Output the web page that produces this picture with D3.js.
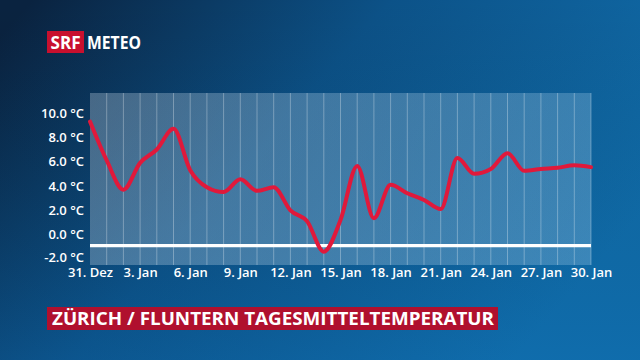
<!DOCTYPE html>
<html>
<head>
<meta charset="utf-8">
<script src="https://cdn.jsdelivr.net/npm/d3@7"></script>
<style>
html,body{margin:0;padding:0;background:#0c3a63;}
svg{display:block;}
</style>
</head>
<body>
<svg id="chart" width="640" height="360"></svg>
<script>
// Data
const days = d3.range(0, 31); // 31. Dez .. 30. Jan
const temps = [9.3, 6.1, 3.7, 5.9, 7.0, 8.7, 5.3, 3.9, 3.5, 4.55, 3.6, 3.9, 2.0, 1.1, -1.4, 1.2, 5.65, 1.35, 4.1, 3.4, 2.85, 2.1, 6.3, 5.0, 5.4, 6.7, 5.25, 5.4, 5.5, 5.7, 5.55];
const xTickDays = [0, 3, 6, 9, 12, 15, 18, 21, 24, 27, 30];
const xTickLabels = ["31. Dez", "3. Jan", "6. Jan", "9. Jan", "12. Jan", "15. Jan", "18. Jan", "21. Jan", "24. Jan", "27. Jan", "30. Jan"];
const yTicks = [-2, 0, 2, 4, 6, 8, 10];
const refLineValue = -0.9;
const title = "ZÜRICH / FLUNTERN TAGESMITTELTEMPERATUR";

const svg = d3.select("#chart");
const W = 640, H = 360;
const defs = svg.append("defs");

const bg = defs.append("linearGradient").attr("id", "bg")
  .attr("x1", "0%").attr("y1", "10%").attr("x2", "100%").attr("y2", "60%");
bg.append("stop").attr("offset", "0%").attr("stop-color", "#0a2340");
bg.append("stop").attr("offset", "45%").attr("stop-color", "#0c5288");
bg.append("stop").attr("offset", "100%").attr("stop-color", "#1171b0");
svg.append("rect").attr("width", W).attr("height", H).attr("fill", "url(#bg)");

const bg2 = defs.append("linearGradient").attr("id", "bg2")
  .attr("x1", "0").attr("y1", "0").attr("x2", "0").attr("y2", "1");
bg2.append("stop").attr("offset", "0%").attr("stop-color", "#000000").attr("stop-opacity", 0.0);
bg2.append("stop").attr("offset", "100%").attr("stop-color", "#0b5fa0").attr("stop-opacity", 0.25);
svg.append("rect").attr("width", W).attr("height", H).attr("fill", "url(#bg2)");

// Scales
const x = d3.scaleLinear().domain([0, 30]).range([90, 591]);
const y = d3.scaleLinear().domain([-2.5, 11.65]).range([265, 93]);

// Plot panel
const panelGrad = defs.append("linearGradient").attr("id", "panel")
  .attr("x1", "0").attr("y1", "0").attr("x2", "1").attr("y2", "0");
panelGrad.append("stop").attr("offset", "0%").attr("stop-color", "#c8d8e6").attr("stop-opacity", 0.32);
panelGrad.append("stop").attr("offset", "100%").attr("stop-color", "#b8dcf4").attr("stop-opacity", 0.26);
svg.append("rect")
  .attr("x", x(0)).attr("y", y(11.65))
  .attr("width", x(30) - x(0)).attr("height", y(-2.5) - y(11.65))
  .attr("fill", "url(#panel)");

// Vertical day grid
svg.append("g").selectAll("line").data(days.slice(1)).join("line")
  .attr("x1", d => x(d)).attr("x2", d => x(d))
  .attr("y1", y(11.65)).attr("y2", y(-2.5))
  .attr("stroke", "#ffffff").attr("stroke-opacity", 0.3).attr("stroke-width", 1);

// Reference line
svg.append("line")
  .attr("x1", x(0)).attr("x2", x(30))
  .attr("y1", y(refLineValue)).attr("y2", y(refLineValue))
  .attr("stroke", "#ffffff").attr("stroke-width", 3.2);

// Temperature line
const line = d3.line().x((d, i) => x(days[i])).y(d => y(d)).curve(d3.curveMonotoneX);
svg.append("path").datum(temps)
  .attr("d", line)
  .attr("fill", "none")
  .attr("stroke", "#e0193b")
  .attr("stroke-width", 4)
  .attr("stroke-linejoin", "round")
  .attr("stroke-linecap", "round");

// Axes
const fontFam = "'Open Sans', 'Noto Sans', sans-serif";
const yAxis = svg.append("g").attr("transform", `translate(${x(0)},0)`)
  .call(d3.axisLeft(y).tickValues(yTicks).tickSize(0).tickPadding(6)
    .tickFormat(d => d.toFixed(1) + " °C"));
yAxis.select(".domain").remove();
yAxis.selectAll("text").attr("fill", "#ffffff").attr("font-size", 13)
  .attr("font-family", fontFam).attr("font-weight", 600);
yAxis.selectAll(".tick").filter(d => d === -2).select("text").attr("dy", "0.2em");

const xAxis = svg.append("g").attr("transform", `translate(0,${y(-2.5)})`)
  .call(d3.axisBottom(x).tickValues(xTickDays).tickSize(0).tickPadding(3)
    .tickFormat((d, i) => xTickLabels[i]));
xAxis.select(".domain").remove();
xAxis.selectAll("text").attr("fill", "#ffffff").attr("font-size", 13)
  .attr("font-family", fontFam).attr("font-weight", 600);

// Logo
svg.append("rect").attr("x", 47).attr("y", 31).attr("width", 37).attr("height", 22).attr("fill", "#c8102e");
svg.append("text").attr("x", 65.5).attr("y", 48.5).attr("text-anchor", "middle")
  .attr("fill", "#ffffff").attr("font-family", fontFam).attr("font-weight", 700)
  .attr("font-size", 17).attr("textLength", 30).attr("lengthAdjust", "spacingAndGlyphs").text("SRF");
svg.append("text").attr("x", 87).attr("y", 49).attr("fill", "#ffffff")
  .attr("font-family", fontFam).attr("font-weight", 700).attr("font-size", 17)
  .attr("textLength", 54).attr("lengthAdjust", "spacingAndGlyphs").text("METEO");

// Title box
svg.append("rect").attr("x", 47).attr("y", 307).attr("width", 451).attr("height", 23).attr("fill", "#b0102e");
svg.append("text").attr("x", 52).attr("y", 324.5).attr("fill", "#ffffff")
  .attr("font-family", fontFam).attr("font-weight", 700).attr("font-size", 17)
  .attr("textLength", 442).attr("lengthAdjust", "spacingAndGlyphs").text(title);
</script>
</body>
</html>
